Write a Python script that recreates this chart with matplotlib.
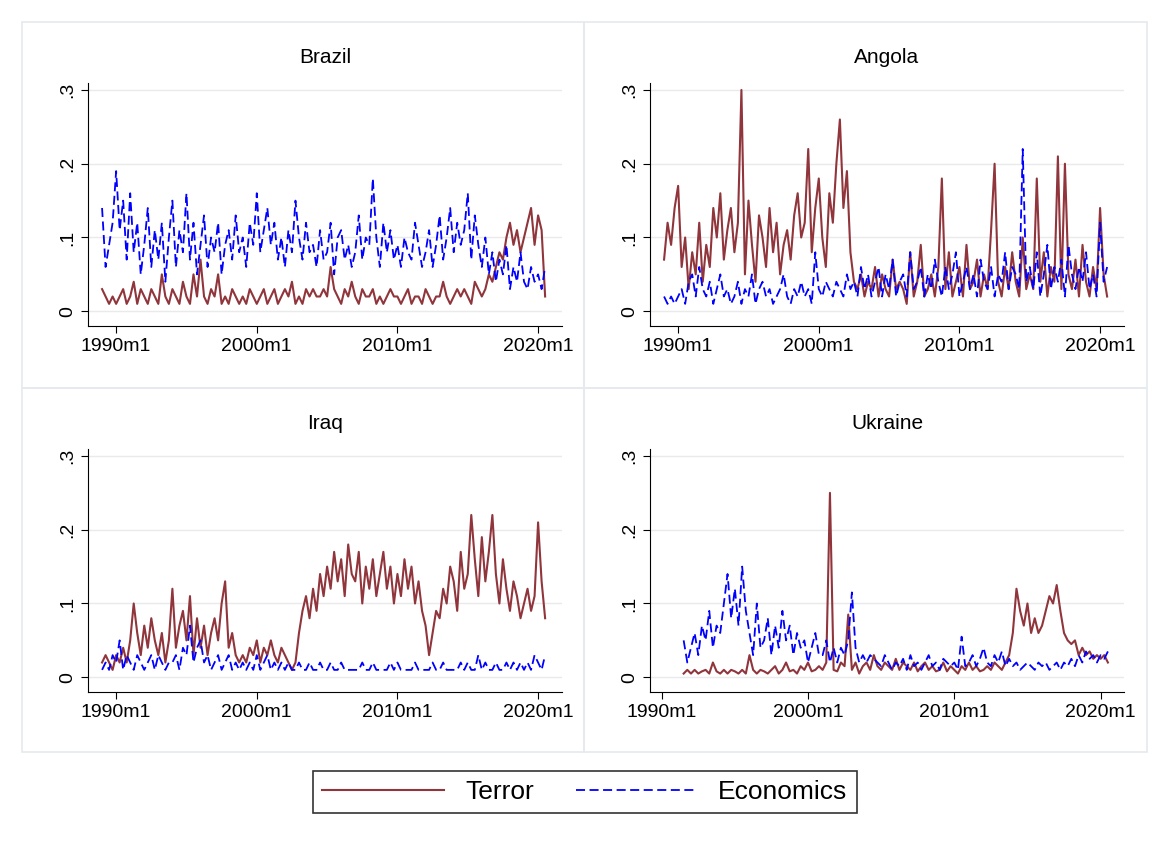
import numpy as np
import matplotlib.pyplot as plt
from matplotlib.patches import Rectangle

plt.rcParams['font.family'] = ['Liberation Sans', 'DejaVu Sans']

# quarterly readings, 1989Q1 .. 2020Q3 (Ukraine from 1991Q3)
brazil_terror = [.03,.02,.01,.02, .01,.02,.03,.01, .02,.04,.01,.03, .02,.01,.03,.02, .01,.05,.02,.01,
    .03,.02,.01,.04, .02,.01,.05,.02, .07,.02,.01,.03, .02,.05,.01,.02, .01,.03,.02,.01,
    .02,.01,.03,.02, .01,.02,.03,.01, .02,.03,.01,.02, .03,.02,.04,.01, .02,.01,.03,.02,
    .03,.02,.02,.03, .02,.06,.03,.02, .01,.03,.02,.04, .02,.01,.03,.02, .02,.03,.01,.02,
    .01,.02,.03,.02, .02,.01,.02,.03, .01,.02,.02,.01, .03,.02,.01,.02, .02,.04,.02,.01,
    .02,.03,.02,.03, .02,.01,.04,.03, .02,.03,.05,.04, .06,.08,.07,.10, .12,.09,.11,.08,
    .10,.12,.14,.09, .13,.11,.02]
brazil_econ = [.14,.06,.09,.12, .19,.11,.15,.07, .16,.08,.12,.05, .09,.14,.06,.11, .07,.12,.04,.10,
    .15,.06,.11,.08, .16,.07,.12,.05, .09,.13,.06,.10, .08,.12,.05,.09, .11,.07,.13,.08,
    .10,.06,.12,.09, .16,.08,.11,.14, .09,.12,.07,.10, .06,.11,.08,.15, .10,.07,.12,.08,
    .09,.06,.11,.07, .08,.12,.05,.10, .11,.07,.09,.06, .08,.13,.07,.10, .09,.18,.10,.06,
    .12,.08,.11,.07, .09,.06,.10,.08, .07,.12,.09,.06, .08,.11,.06,.09, .13,.07,.10,.14,
    .08,.12,.09,.11, .16,.07,.13,.09, .06,.10,.05,.08, .04,.07,.05,.09, .03,.06,.04,.08,
    .04,.03,.06,.04, .05,.03,.06]
angola_terror = [.07,.12,.09,.14, .17,.06,.10,.03, .08,.05,.12,.04, .09,.06,.14,.10, .16,.07,.11,.14,
    .08,.12,.30,.05, .15,.09,.04,.13, .10,.06,.14,.08, .12,.05,.09,.11, .07,.13,.16,.10,
    .12,.22,.08,.14, .18,.10,.06,.16, .12,.20,.26,.14, .19,.08,.04,.03, .05,.02,.04,.03,
    .06,.02,.05,.03, .02,.07,.03,.04, .03,.01,.08,.02, .04,.09,.02,.03, .05,.02,.06,.18,
    .03,.08,.02,.04, .06,.02,.09,.03, .04,.07,.02,.05, .03,.11,.20,.04, .02,.06,.03,.08,
    .04,.02,.10,.03, .05,.03,.18,.04, .08,.02,.06,.04, .21,.03,.20,.05, .03,.07,.02,.09,
    .04,.02,.06,.03, .14,.05,.02]
angola_econ = [.02,.01,.02,.01, .02,.03,.01,.04, .05,.02,.06,.03, .02,.04,.01,.03, .05,.02,.03,.01,
    .02,.04,.01,.03, .02,.05,.01,.03, .04,.02,.03,.01, .02,.03,.05,.02, .01,.03,.02,.04,
    .02,.03,.01,.08, .03,.02,.04,.03, .02,.04,.03,.02, .05,.03,.04,.02, .06,.03,.05,.02,
    .04,.06,.02,.05, .03,.07,.02,.04, .05,.02,.08,.03, .04,.06,.02,.05, .03,.07,.04,.02,
    .06,.03,.05,.08, .02,.04,.06,.03, .05,.02,.07,.04, .03,.06,.02,.05, .04,.08,.03,.06,
    .05,.03,.22,.04, .06,.03,.08,.02, .05,.09,.03,.06, .04,.07,.02,.09, .05,.03,.06,.04,
    .08,.03,.05,.02, .12,.04,.06]
iraq_terror = [.02,.03,.02,.01, .03,.02,.04,.02, .05,.10,.06,.03, .07,.04,.08,.05, .03,.06,.02,.05,
    .12,.04,.07,.09, .05,.11,.03,.08, .04,.07,.03,.06, .08,.05,.10,.13, .04,.06,.03,.02,
    .03,.02,.04,.03, .05,.02,.04,.03, .05,.03,.02,.04, .03,.02,.01,.02, .06,.09,.11,.08,
    .12,.09,.14,.11, .15,.12,.17,.13, .16,.11,.18,.14, .13,.17,.10,.15, .12,.16,.11,.14,
    .17,.12,.15,.10, .14,.11,.16,.12, .15,.10,.13,.09, .07,.03,.06,.09, .08,.12,.10,.15,
    .13,.09,.17,.12, .14,.22,.16,.11, .19,.13,.17,.22, .14,.10,.16,.12, .09,.13,.11,.08,
    .10,.12,.09,.11, .21,.13,.08]
iraq_econ = [.01,.02,.01,.03, .02,.05,.01,.03, .02,.01,.03,.02, .01,.02,.03,.01, .03,.02,.01,.02,
    .02,.03,.01,.04, .03,.07,.02,.04, .05,.02,.03,.01, .02,.03,.01,.02, .03,.01,.02,.01,
    .02,.01,.02,.01, .03,.01,.02,.03, .01,.02,.01,.02, .01,.02,.01,.01, .02,.01,.01,.02,
    .01,.01,.02,.01, .01,.02,.01,.01, .02,.01,.01,.01, .01,.01,.02,.01, .01,.02,.01,.01,
    .01,.01,.02,.01, .02,.01,.01,.01, .01,.02,.01,.01, .01,.01,.02,.01, .01,.02,.01,.01,
    .01,.01,.02,.01, .02,.01,.01,.03, .01,.02,.01,.01, .02,.01,.01,.02, .01,.02,.01,.02,
    .01,.02,.01,.03, .02,.01,.03]
ukraine_terror = [.005,.01, .005,.01,.005,.008, .01,.005,.02,.008, .005,.01,.005,.01, .008,.005,.01,.005,
    .03,.01,.005,.01, .008,.005,.01,.015, .005,.01,.02,.008, .01,.005,.015,.01, .02,.008,.01,.015,
    .01,.02,.25,.01, .008,.02,.015,.085, .01,.02,.005,.015, .02,.01,.03,.015, .01,.02,.015,.01,
    .025,.01,.02,.015, .01,.02,.008,.015, .02,.01,.015,.008, .01,.02,.008,.015, .01,.005,.015,.01,
    .02,.01,.015,.008, .01,.015,.01,.02, .015,.01,.02,.03, .06,.12,.09,.07, .10,.06,.08,.06,
    .07,.09,.11,.10, .125,.09,.06,.05, .045,.05,.03,.04, .03,.035,.025,.03, .025,.03,.02]
ukraine_econ = [.05,.02, .04,.06,.03,.07, .05,.09,.04,.07, .06,.10,.14,.08, .12,.07,.15,.09,
    .06,.03,.10,.04, .05,.08,.03,.07, .04,.09,.05,.07, .03,.06,.04,.05, .02,.04,.06,.03,
    .03,.05,.02,.04, .02,.04,.03,.05, .115,.04,.02,.03, .02,.03,.025,.02, .015,.03,.02,.01,
    .02,.015,.025,.01, .03,.015,.02,.01, .02,.03,.015,.02, .01,.025,.02,.015, .02,.01,.055,.015,
    .02,.03,.015,.025, .04,.02,.015,.03, .02,.035,.015,.025, .015,.02,.01,.015, .02,.015,.01,.02,
    .015,.02,.01,.015, .02,.01,.02,.015, .025,.015,.03,.02, .035,.025,.03,.02, .03,.025,.035]

panels = [("Brazil", 1989.0, brazil_terror, brazil_econ),
          ("Angola", 1989.0, angola_terror, angola_econ),
          ("Iraq", 1989.0, iraq_terror, iraq_econ),
          ("Ukraine", 1991.5, ukraine_terror, ukraine_econ)]

terror_col = "#90353b"
econ_col = "#0000ff"

fig = plt.figure(figsize=(11.59, 8.44), dpi=100)
W, H = 1159, 844

# panel frames
for x0, y0, x1, y1 in [(22, 22, 584, 388), (584, 22, 1147, 388),
                       (22, 388, 584, 752), (584, 388, 1147, 752)]:
    fig.patches.append(Rectangle((x0 / W, 1 - y1 / H), (x1 - x0) / W, (y1 - y0) / H,
                                 transform=fig.transFigure, fill=False,
                                 edgecolor="#e6eaee", lw=1.2))

lefts = [88, 650, 88, 650]
bots = [326, 326, 692, 692]
xlims = [(1988.0, 2021.7), (1988.0, 2021.7), (1988.0, 2021.7), (1989.2, 2021.6)]
for i, (name, start, ter, eco) in enumerate(panels):
    ax = fig.add_axes([lefts[i] / W, 1 - bots[i] / H, 474 / W, 243.4 / H])
    t = start + np.arange(len(ter)) / 4
    ax.plot(t, ter, color=terror_col, lw=1.5)
    ax.plot(t, eco, color=econ_col, lw=1.3, dashes=(5, 2.5))
    ax.set_xlim(*xlims[i])
    ax.set_ylim(-0.02, 0.31)
    ax.set_yticks([0, .1, .2, .3])
    ax.set_yticklabels(["0", ".1", ".2", ".3"], rotation=90, va="center", fontsize=14)
    ax.set_xticks([1990, 2000, 2010, 2020])
    ax.set_xticklabels(["1990m1", "2000m1", "2010m1", "2020m1"], fontsize=14)
    ax.grid(axis="y", color="#eaeaea", lw=1)
    ax.set_axisbelow(True)
    for s in ["top", "right"]:
        ax.spines[s].set_visible(False)
    ax.tick_params(length=5)
    ax.set_title(name, fontsize=15, pad=14)

h1, = plt.plot([], [], color=terror_col, lw=1.5)
h2, = plt.plot([], [], color=econ_col, lw=1.3, dashes=(5, 2.5))
leg = fig.legend([h1, h2], ["Terror", "Economics"], loc="center",
                 bbox_to_anchor=(585 / W, 1 - 792 / H), ncol=2, fontsize=19,
                 frameon=True, fancybox=False, edgecolor="black", handlelength=4.6,
                 columnspacing=1.6, borderpad=0.35)
leg.get_frame().set_linewidth(1.2)

fig.savefig("out.png", dpi=100, facecolor="white")
